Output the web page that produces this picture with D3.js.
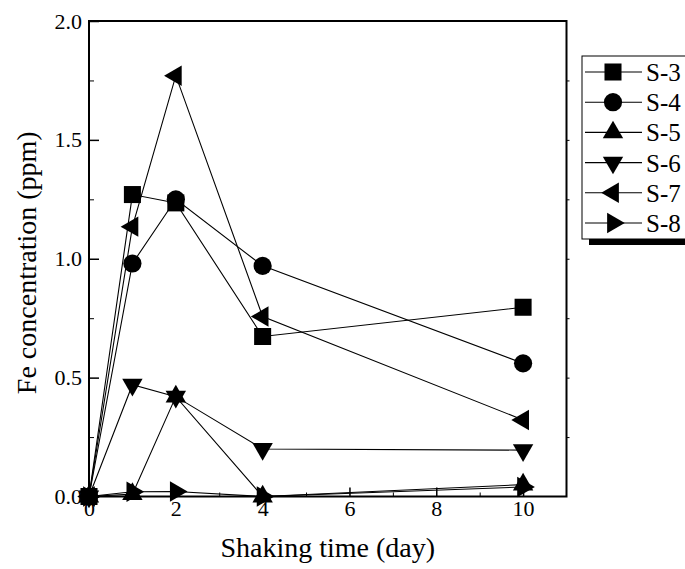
<!DOCTYPE html>
<html><head><meta charset="utf-8">
<script src="https://cdn.jsdelivr.net/npm/d3@7"></script>
</head><body style="margin:0">
<svg id="c" width="685" height="569" font-family="Liberation Serif"></svg>
<script>
const days = [0, 1, 2, 4, 10];
const seriesNames = ["S-3", "S-4", "S-5", "S-6", "S-7", "S-8"];
const s3 = [0, 1.27, 1.235, 0.673, 0.796];
const s4 = [0, 0.98, 1.25, 0.97, 0.56];
const s5 = [0, 0.01, 0.42, 0.0, 0.05];
const s6 = [0, 0.47, 0.42, 0.20, 0.195];
const s7 = [0, 1.135, 1.77, 0.757, 0.322];
const s8 = [0, 0.02, 0.021, 0.0, 0.04];
const xTicks = [0, 2, 4, 6, 8, 10];
const yTicks = [0.0, 0.5, 1.0, 1.5, 2.0];
const xTitle = "Shaking time (day)";
const yTitle = "Fe concentration (ppm)";

const allSeries = [s3, s4, s5, s6, s7, s8];
const shapes = ["square", "circle", "up", "down", "left", "right"];
const FONT = "\"Liberation Serif\"";

function serif(sel, size) {
  return sel.attr("font-family", "Liberation Serif").attr("font-size", size)
    .style("font-family", FONT).style("font-size", size + "px");
}

const svg = d3.select("#c");
const L = 89, R = 566.5, T = 21, B = 496.5;
const x = d3.scaleLinear().domain([0, 11]).range([L, R]);
const y = d3.scaleLinear().domain([0, 2]).range([B, T]);

function markerPath(shape) {
  if (shape === "square") return d3.symbol(d3.symbolSquare, 290)();
  if (shape === "circle") return d3.symbol(d3.symbolCircle, 260)();
  return d3.symbol(d3.symbolTriangle, 180)();
}
function markerRot(shape) {
  return {up: 0, down: 180, left: -90, right: 90}[shape] || 0;
}

const line = d3.line().x((d, i) => x(days[i])).y(d => y(d));
allSeries.forEach(s => {
  svg.append("path").attr("d", line(s)).attr("fill", "none").attr("stroke", "#000").attr("stroke-width", 1.1);
});
allSeries.forEach((s, k) => {
  svg.selectAll(null).data(s).enter().append("path")
    .attr("d", markerPath(shapes[k]))
    .attr("transform", (d, i) => `translate(${x(days[i])},${y(d)}) rotate(${markerRot(shapes[k])})`)
    .attr("fill", "#000");
});

svg.append("rect").attr("x", L).attr("y", T).attr("width", R - L).attr("height", B - T)
  .attr("fill", "none").attr("stroke", "#000").attr("stroke-width", 2);

const gx = svg.append("g").attr("transform", `translate(0,${B})`)
  .call(d3.axisBottom(x).tickValues(xTicks).tickSize(-9).tickPadding(4).tickFormat(d3.format("d")));
serif(gx, 22);
gx.select(".domain").remove();
gx.selectAll("line").attr("stroke-width", 1.5);
serif(gx.selectAll("text"), 22);
const gxm = svg.append("g").attr("transform", `translate(0,${B})`)
  .call(d3.axisBottom(x).tickValues([1, 3, 5, 7, 9]).tickSize(-4).tickFormat(""));
gxm.select(".domain").remove();

const gy = svg.append("g").attr("transform", `translate(${L},0)`)
  .call(d3.axisLeft(y).tickValues(yTicks).tickSize(-10).tickPadding(7).tickFormat(d3.format(".1f")));
serif(gy, 22);
gy.select(".domain").remove();
gy.selectAll("line").attr("stroke-width", 1.5);
serif(gy.selectAll("text"), 22);
const gym = svg.append("g").attr("transform", `translate(${L},0)`)
  .call(d3.axisLeft(y).tickValues([0.25, 0.75, 1.25, 1.75]).tickSize(-5).tickFormat(""));
gym.select(".domain").remove();
const gyr = svg.append("g").attr("transform", `translate(${R},0)`)
  .call(d3.axisRight(y).tickValues([0.25, 0.5, 0.75, 1.0, 1.25, 1.5, 1.75]).tickSize(3).tickFormat(""));
gyr.select(".domain").remove();

// keep the markers above the tick labels, as in the reference
svg.selectAll("path").filter(function () { return this.getAttribute("fill") === "#000"; }).raise();

serif(svg.append("text").attr("x", (L + R) / 2).attr("y", 557).attr("text-anchor", "middle"), 28).text(xTitle);
serif(svg.append("text").attr("transform", `translate(36,${(T + B) / 2 + 4}) rotate(-90)`)
  .attr("text-anchor", "middle"), 28).text(yTitle);

const lg = svg.append("g");
lg.append("rect").attr("x", 589).attr("y", 239).attr("width", 100).attr("height", 6).attr("fill", "#000");
lg.append("rect").attr("x", 582).attr("y", 56).attr("width", 110).attr("height", 183)
  .attr("fill", "#fff").attr("stroke", "#000").attr("stroke-width", 1);
seriesNames.forEach((name, k) => {
  const cy = 72 + 30.2 * k;
  lg.append("line").attr("x1", 585).attr("x2", 642).attr("y1", cy).attr("y2", cy).attr("stroke", "#000").attr("stroke-width", 1.1);
  lg.append("path").attr("d", markerPath(shapes[k])).attr("transform", `translate(613,${cy}) rotate(${markerRot(shapes[k])})`).attr("fill", "#000");
  serif(lg.append("text").attr("x", 646).attr("y", cy + 9), 25).text(name);
});
</script></body></html>
